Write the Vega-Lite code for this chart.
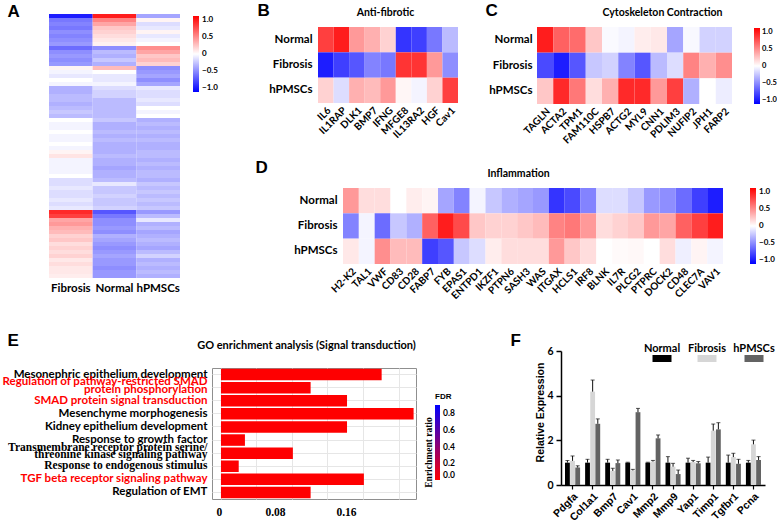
{
  "$schema": "https://vega.github.io/schema/vega-lite/v6.json",
  "padding": 0,
  "config": {
    "view": {"stroke": null},
    "font": "Lato",
    "axis": {"labelFont": "Lato", "titleFont": "Lato", "labelColor": "#000", "titleColor": "#000"},
    "legend": {"labelFont": "Lato", "titleFont": "Lato", "labelColor": "#000", "titleColor": "#000"}
  },
  "datasets": {
    "qpcr": [
      {"gene":"Pdgfa","group":"Normal","v":1.0,"hi":1.1},
      {"gene":"Pdgfa","group":"Fibrosis","v":1.08,"hi":1.3},
      {"gene":"Pdgfa","group":"hPMSCs","v":0.78,"hi":0.86},
      {"gene":"Col1a1","group":"Normal","v":1.0,"hi":1.15},
      {"gene":"Col1a1","group":"Fibrosis","v":4.18,"hi":4.7},
      {"gene":"Col1a1","group":"hPMSCs","v":2.74,"hi":2.96},
      {"gene":"Bmp7","group":"Normal","v":1.0,"hi":1.15},
      {"gene":"Bmp7","group":"Fibrosis","v":0.63,"hi":0.75},
      {"gene":"Bmp7","group":"hPMSCs","v":0.98,"hi":1.12},
      {"gene":"Cav1","group":"Normal","v":1.0,"hi":1.02},
      {"gene":"Cav1","group":"Fibrosis","v":0.65,"hi":0.7},
      {"gene":"Cav1","group":"hPMSCs","v":3.26,"hi":3.43},
      {"gene":"Mmp2","group":"Normal","v":1.0,"hi":1.02},
      {"gene":"Mmp2","group":"Fibrosis","v":1.05,"hi":1.1},
      {"gene":"Mmp2","group":"hPMSCs","v":2.09,"hi":2.24},
      {"gene":"Mmp9","group":"Normal","v":1.0,"hi":1.27},
      {"gene":"Mmp9","group":"Fibrosis","v":0.82,"hi":0.97},
      {"gene":"Mmp9","group":"hPMSCs","v":0.49,"hi":0.67},
      {"gene":"Yap1","group":"Normal","v":1.0,"hi":1.2},
      {"gene":"Yap1","group":"Fibrosis","v":1.03,"hi":1.1},
      {"gene":"Yap1","group":"hPMSCs","v":0.97,"hi":1.05},
      {"gene":"Timp1","group":"Normal","v":1.0,"hi":1.25},
      {"gene":"Timp1","group":"Fibrosis","v":2.43,"hi":2.73},
      {"gene":"Timp1","group":"hPMSCs","v":2.49,"hi":2.79},
      {"gene":"Tgfbr1","group":"Normal","v":1.0,"hi":1.34},
      {"gene":"Tgfbr1","group":"Fibrosis","v":1.25,"hi":1.42},
      {"gene":"Tgfbr1","group":"hPMSCs","v":0.95,"hi":1.15},
      {"gene":"Pcna","group":"Normal","v":1.0,"hi":1.1},
      {"gene":"Pcna","group":"Fibrosis","v":1.82,"hi":2.01},
      {"gene":"Pcna","group":"hPMSCs","v":1.12,"hi":1.27}
    ]
  },
  "resolve": {"scale": {"color": "independent"}, "legend": {"color": "independent"}},
  "bounds": "flush",
  "spacing": 0,
  "vconcat": [
    {
      "resolve": {"scale": {"color": "independent"}, "legend": {"color": "independent"}},
      "bounds": "flush", "spacing": 13,
      "vconcat": [
        {"width": 1, "height": 1, "data": {"values": []}, "mark": "rect", "encoding": {}},
        {
          "resolve": {"scale": {"color": "independent"}, "legend": {"color": "independent"}},
          "bounds": "flush", "spacing": 48,
          "hconcat": [
            {"width": 1, "height": 1, "data": {"values": []}, "mark": "rect", "encoding": {}},
            {
              "width": 131,
              "height": 264,
              "data": {"values": [
                {"r":0,"Fibrosis":-1.0,"Normal":1.0,"hPMSCs":-0.4},
                {"r":1,"Fibrosis":-0.6,"Normal":0.55,"hPMSCs":0.05},
                {"r":2,"Fibrosis":-0.55,"Normal":0.4,"hPMSCs":-0.15},
                {"r":3,"Fibrosis":-0.6,"Normal":0.25,"hPMSCs":-0.1},
                {"r":4,"Fibrosis":-0.5,"Normal":0.2,"hPMSCs":0.05},
                {"r":5,"Fibrosis":-0.55,"Normal":0.15,"hPMSCs":-0.1},
                {"r":6,"Fibrosis":-0.5,"Normal":0.1,"hPMSCs":-0.05},
                {"r":7,"Fibrosis":-0.45,"Normal":0.06,"hPMSCs":0.0},
                {"r":8,"Fibrosis":-0.65,"Normal":-0.5,"hPMSCs":0.5},
                {"r":9,"Fibrosis":-0.5,"Normal":-0.3,"hPMSCs":0.4},
                {"r":10,"Fibrosis":-0.45,"Normal":-0.35,"hPMSCs":0.25},
                {"r":11,"Fibrosis":-0.5,"Normal":-0.25,"hPMSCs":0.3},
                {"r":12,"Fibrosis":-0.45,"Normal":-0.35,"hPMSCs":0.2},
                {"r":13,"Fibrosis":0.05,"Normal":0.3,"hPMSCs":-0.5},
                {"r":14,"Fibrosis":-0.05,"Normal":0.0,"hPMSCs":-0.45},
                {"r":15,"Fibrosis":-0.1,"Normal":-0.1,"hPMSCs":-0.4},
                {"r":16,"Fibrosis":0.0,"Normal":-0.1,"hPMSCs":-0.5},
                {"r":17,"Fibrosis":-0.05,"Normal":-0.05,"hPMSCs":-0.4},
                {"r":18,"Fibrosis":-0.35,"Normal":-0.15,"hPMSCs":-0.1},
                {"r":19,"Fibrosis":-0.35,"Normal":-0.2,"hPMSCs":-0.15},
                {"r":20,"Fibrosis":-0.3,"Normal":-0.2,"hPMSCs":-0.15},
                {"r":21,"Fibrosis":-0.3,"Normal":-0.3,"hPMSCs":-0.1},
                {"r":22,"Fibrosis":-0.35,"Normal":-0.3,"hPMSCs":-0.15},
                {"r":23,"Fibrosis":-0.3,"Normal":-0.3,"hPMSCs":0.0},
                {"r":24,"Fibrosis":-0.25,"Normal":-0.3,"hPMSCs":-0.05},
                {"r":25,"Fibrosis":-0.3,"Normal":-0.3,"hPMSCs":0.0},
                {"r":26,"Fibrosis":0.0,"Normal":-0.25,"hPMSCs":-0.35},
                {"r":27,"Fibrosis":-0.05,"Normal":-0.35,"hPMSCs":-0.3},
                {"r":28,"Fibrosis":-0.05,"Normal":-0.35,"hPMSCs":-0.35},
                {"r":29,"Fibrosis":0.0,"Normal":-0.3,"hPMSCs":-0.3},
                {"r":30,"Fibrosis":-0.05,"Normal":-0.35,"hPMSCs":-0.35},
                {"r":31,"Fibrosis":-0.05,"Normal":-0.3,"hPMSCs":-0.3},
                {"r":32,"Fibrosis":0.0,"Normal":-0.35,"hPMSCs":-0.35},
                {"r":33,"Fibrosis":-0.05,"Normal":-0.35,"hPMSCs":-0.35},
                {"r":34,"Fibrosis":0.05,"Normal":-0.35,"hPMSCs":-0.3},
                {"r":35,"Fibrosis":0.12,"Normal":-0.3,"hPMSCs":-0.3},
                {"r":36,"Fibrosis":-0.05,"Normal":-0.35,"hPMSCs":-0.35},
                {"r":37,"Fibrosis":-0.05,"Normal":-0.35,"hPMSCs":-0.3},
                {"r":38,"Fibrosis":-0.05,"Normal":-0.4,"hPMSCs":-0.35},
                {"r":39,"Fibrosis":-0.05,"Normal":-0.35,"hPMSCs":-0.3},
                {"r":40,"Fibrosis":0.0,"Normal":-0.35,"hPMSCs":-0.3},
                {"r":41,"Fibrosis":-0.15,"Normal":-0.3,"hPMSCs":-0.35},
                {"r":42,"Fibrosis":-0.15,"Normal":-0.1,"hPMSCs":-0.25},
                {"r":43,"Fibrosis":-0.1,"Normal":-0.25,"hPMSCs":-0.3},
                {"r":44,"Fibrosis":-0.15,"Normal":-0.25,"hPMSCs":-0.25},
                {"r":45,"Fibrosis":-0.15,"Normal":-0.2,"hPMSCs":-0.3},
                {"r":46,"Fibrosis":-0.1,"Normal":-0.25,"hPMSCs":-0.25},
                {"r":47,"Fibrosis":-0.15,"Normal":-0.25,"hPMSCs":-0.3},
                {"r":48,"Fibrosis":-0.1,"Normal":-0.2,"hPMSCs":-0.25},
                {"r":49,"Fibrosis":0.95,"Normal":-0.75,"hPMSCs":-0.45},
                {"r":50,"Fibrosis":0.85,"Normal":-0.6,"hPMSCs":-0.3},
                {"r":51,"Fibrosis":0.4,"Normal":-0.5,"hPMSCs":-0.1},
                {"r":52,"Fibrosis":0.45,"Normal":-0.5,"hPMSCs":-0.35},
                {"r":53,"Fibrosis":0.35,"Normal":-0.45,"hPMSCs":-0.3},
                {"r":54,"Fibrosis":0.3,"Normal":-0.5,"hPMSCs":-0.4},
                {"r":55,"Fibrosis":0.2,"Normal":-0.35,"hPMSCs":-0.35},
                {"r":56,"Fibrosis":0.25,"Normal":-0.4,"hPMSCs":-0.3},
                {"r":57,"Fibrosis":0.15,"Normal":-0.45,"hPMSCs":-0.35},
                {"r":58,"Fibrosis":0.2,"Normal":-0.5,"hPMSCs":-0.4},
                {"r":59,"Fibrosis":0.15,"Normal":-0.45,"hPMSCs":-0.3},
                {"r":60,"Fibrosis":0.2,"Normal":-0.4,"hPMSCs":-0.2},
                {"r":61,"Fibrosis":0.1,"Normal":-0.45,"hPMSCs":-0.35},
                {"r":62,"Fibrosis":0.15,"Normal":-0.45,"hPMSCs":-0.3},
                {"r":63,"Fibrosis":0.1,"Normal":-0.5,"hPMSCs":-0.35},
                {"r":64,"Fibrosis":0.1,"Normal":-0.45,"hPMSCs":-0.3},
                {"r":65,"Fibrosis":0.08,"Normal":-0.45,"hPMSCs":-0.35}
              ]},
              "transform": [{"fold": ["Fibrosis", "Normal", "hPMSCs"], "as": ["grp", "val"]}],
              "mark": {"type": "rect"},
              "encoding": {
                "x": {"field": "grp", "type": "nominal", "sort": ["Fibrosis", "Normal", "hPMSCs"],
                      "scale": {"paddingInner": 0, "paddingOuter": 0},
                      "axis": {"title": null, "labelAngle": 0, "labelFontSize": 11.5, "labelFontWeight": "bold", "ticks": false, "domain": false, "labelPadding": 4}},
                "y": {"field": "r", "type": "ordinal",
                      "scale": {"paddingInner": 0, "paddingOuter": 0},
                      "axis": {"labels": false, "ticks": false, "domain": false, "title": "A", "titleAngle": 0, "titleX": -42, "titleY": 2, "titleAlign": "left", "titleBaseline": "alphabetic", "titleFontSize": 17, "titleFontWeight": "bold", "titleFont": "Liberation Sans"}},
                "color": {"field": "val", "type": "quantitative",
                          "scale": {"type": "linear", "domain": [-1.13, 0, 1.13], "range": ["#0000ff", "#ffffff", "#ff0000"], "interpolate": "rgb"},
                          "legend": {"orient": "none", "legendX": 144, "legendY": 2, "direction": "vertical", "title": null, "gradientLength": 76, "gradientThickness": 6, "values": [1, 0.5, 0, -0.5, -1], "labelExpr": "datum.value == 0 ? '0' : format(datum.value, '.1f')", "labelFontSize": 8, "labelFontWeight": "bold", "labelOffset": 3, "gradientStrokeWidth": 0}}
              }
            }
          ]
        }
      ]
    },
    {
      "resolve": {"scale": {"color": "independent"}, "legend": {"color": "independent"}},
      "bounds": "flush", "spacing": 26,
      "vconcat": [
        {"width": 1, "height": 1, "data": {"values": []}, "mark": "rect", "encoding": {}},
        {
          "resolve": {"scale": {"color": "independent"}, "legend": {"color": "independent"}},
          "bounds": "flush", "spacing": 317,
          "hconcat": [
            {"width": 1, "height": 1, "data": {"values": []}, "mark": "rect", "encoding": {}},
            {
              "width": 140,
              "height": 76,
              "data": {"values": [
                {"gene":"IL6","Normal":0.85,"Fibrosis":-1.0,"hPMSCs":0.2},
                {"gene":"IL1RAP","Normal":1.0,"Fibrosis":-0.85,"hPMSCs":-0.15},
                {"gene":"DLK1","Normal":0.45,"Fibrosis":-0.75,"hPMSCs":0.35},
                {"gene":"BMP7","Normal":0.35,"Fibrosis":-0.55,"hPMSCs":0.3},
                {"gene":"IFNG","Normal":0.2,"Fibrosis":-0.6,"hPMSCs":0.45},
                {"gene":"MFGE8","Normal":-0.9,"Fibrosis":0.9,"hPMSCs":0.04},
                {"gene":"IL13RA2","Normal":-0.85,"Fibrosis":0.9,"hPMSCs":-0.05},
                {"gene":"HGF","Normal":-0.6,"Fibrosis":0.45,"hPMSCs":0.2},
                {"gene":"Cav1","Normal":-0.3,"Fibrosis":-0.5,"hPMSCs":0.85}
              ]},
              "transform": [{"fold": ["Normal", "Fibrosis", "hPMSCs"], "as": ["grp", "val"]}],
              "mark": {"type": "rect"},
              "encoding": {
                "x": {"field": "gene", "type": "nominal", "sort": null,
                      "scale": {"paddingInner": 0, "paddingOuter": 0},
                      "axis": {"labelAngle": -45, "labelFontSize": 10, "labelFontWeight": "bold", "ticks": false, "domain": false, "labelPadding": 2,
                               "title": "Anti-fibrotic", "titleX": 67, "titleY": -88, "titleAlign": "center", "titleBaseline": "alphabetic", "titleFontSize": 10.5, "titleFontWeight": "bold"}},
                "y": {"field": "grp", "type": "nominal", "sort": ["Normal", "Fibrosis", "hPMSCs"],
                      "scale": {"paddingInner": 0, "paddingOuter": 0},
                      "axis": {"labelFontSize": 11.5, "labelFontWeight": "bold", "ticks": false, "domain": false, "labelPadding": 6,
                               "title": "B", "titleAngle": 0, "titleX": -61, "titleY": -12, "titleAlign": "left", "titleBaseline": "alphabetic", "titleFontSize": 17, "titleFontWeight": "bold", "titleFont": "Liberation Sans"}},
                "color": {"field": "val", "type": "quantitative",
                          "scale": {"type": "linear", "domain": [-1.13, 0, 1.13], "range": ["#0000ff", "#ffffff", "#ff0000"], "interpolate": "rgb"},
                          "legend": null}
              }
            }
          ]
        }
      ]
    },
    {
      "resolve": {"scale": {"color": "independent"}, "legend": {"color": "independent"}},
      "bounds": "flush", "spacing": 26,
      "vconcat": [
        {"width": 1, "height": 1, "data": {"values": []}, "mark": "rect", "encoding": {}},
        {
          "resolve": {"scale": {"color": "independent"}, "legend": {"color": "independent"}},
          "bounds": "flush", "spacing": 536,
          "hconcat": [
            {"width": 1, "height": 1, "data": {"values": []}, "mark": "rect", "encoding": {}},
            {
              "width": 195,
              "height": 77,
              "data": {"values": [
                {"gene":"TAGLN","Normal":1.0,"Fibrosis":-0.8,"hPMSCs":0.25},
                {"gene":"ACTA2","Normal":0.7,"Fibrosis":-1.0,"hPMSCs":0.95},
                {"gene":"TPM1","Normal":0.65,"Fibrosis":-0.75,"hPMSCs":0.6},
                {"gene":"FAM110C","Normal":0.25,"Fibrosis":-0.25,"hPMSCs":0.15},
                {"gene":"HSPB7","Normal":-0.02,"Fibrosis":-0.2,"hPMSCs":0.35},
                {"gene":"ACTG2","Normal":-0.05,"Fibrosis":-0.55,"hPMSCs":0.95},
                {"gene":"MYL9","Normal":0.08,"Fibrosis":-0.75,"hPMSCs":0.95},
                {"gene":"CNN1","Normal":0.1,"Fibrosis":-0.3,"hPMSCs":0.45},
                {"gene":"PDLIM3","Normal":-0.4,"Fibrosis":-0.15,"hPMSCs":0.85},
                {"gene":"NUFIP2","Normal":-0.03,"Fibrosis":0.55,"hPMSCs":-0.35},
                {"gene":"JPH1","Normal":-0.2,"Fibrosis":0.35,"hPMSCs":0.0},
                {"gene":"FARP2","Normal":-0.2,"Fibrosis":0.5,"hPMSCs":-0.08}
              ]},
              "transform": [{"fold": ["Normal", "Fibrosis", "hPMSCs"], "as": ["grp", "val"]}],
              "mark": {"type": "rect"},
              "encoding": {
                "x": {"field": "gene", "type": "nominal", "sort": null,
                      "scale": {"paddingInner": 0, "paddingOuter": 0},
                      "axis": {"labelAngle": -45, "labelFontSize": 10, "labelFontWeight": "bold", "ticks": false, "domain": false, "labelPadding": 2,
                               "title": "Cytoskeleton Contraction", "titleX": 125, "titleY": -89, "titleAlign": "center", "titleBaseline": "alphabetic", "titleFontSize": 10.5, "titleFontWeight": "bold"}},
                "y": {"field": "grp", "type": "nominal", "sort": ["Normal", "Fibrosis", "hPMSCs"],
                      "scale": {"paddingInner": 0, "paddingOuter": 0},
                      "axis": {"labelFontSize": 11.5, "labelFontWeight": "bold", "ticks": false, "domain": false, "labelPadding": 5,
                               "title": "C", "titleAngle": 0, "titleX": -52, "titleY": -12, "titleAlign": "left", "titleBaseline": "alphabetic", "titleFontSize": 17, "titleFontWeight": "bold", "titleFont": "Liberation Sans"}},
                "color": {"field": "val", "type": "quantitative",
                          "scale": {"type": "linear", "domain": [-1.13, 0, 1.13], "range": ["#0000ff", "#ffffff", "#ff0000"], "interpolate": "rgb"},
                          "legend": {"orient": "none", "legendX": 217, "legendY": 1, "direction": "vertical", "title": null, "gradientLength": 76, "gradientThickness": 6, "values": [1, 0.5, 0, -0.5, -1], "labelExpr": "datum.value == 0 ? '0' : format(datum.value, '.1f')", "labelFontSize": 7.5, "labelFontWeight": "bold", "labelOffset": 2, "gradientStrokeWidth": 0}}
              }
            }
          ]
        }
      ]
    },
    {
      "resolve": {"scale": {"color": "independent"}, "legend": {"color": "independent"}},
      "bounds": "flush", "spacing": 187,
      "vconcat": [
        {"width": 1, "height": 1, "data": {"values": []}, "mark": "rect", "encoding": {}},
        {
          "resolve": {"scale": {"color": "independent"}, "legend": {"color": "independent"}},
          "bounds": "flush", "spacing": 342,
          "hconcat": [
            {"width": 1, "height": 1, "data": {"values": []}, "mark": "rect", "encoding": {}},
            {
              "width": 380,
              "height": 76,
              "data": {"values": [
                {"gene":"H2-K2","Normal":0.45,"Fibrosis":-0.55,"hPMSCs":0.1},
                {"gene":"TAL1","Normal":0.15,"Fibrosis":-0.05,"hPMSCs":-0.05},
                {"gene":"VWF","Normal":0.15,"Fibrosis":-0.65,"hPMSCs":0.5},
                {"gene":"CD83","Normal":0.0,"Fibrosis":-0.25,"hPMSCs":0.3},
                {"gene":"CD28","Normal":0.08,"Fibrosis":-0.35,"hPMSCs":0.3},
                {"gene":"FABP7","Normal":0.05,"Fibrosis":0.7,"hPMSCs":-0.85},
                {"gene":"FYB","Normal":-0.4,"Fibrosis":1.0,"hPMSCs":-0.75},
                {"gene":"EPAS1","Normal":-0.55,"Fibrosis":0.8,"hPMSCs":-0.25},
                {"gene":"ENTPD1","Normal":-0.05,"Fibrosis":0.25,"hPMSCs":-0.15},
                {"gene":"IKZF1","Normal":-0.25,"Fibrosis":0.2,"hPMSCs":0.08},
                {"gene":"PTPN6","Normal":-0.35,"Fibrosis":0.2,"hPMSCs":0.15},
                {"gene":"SASH3","Normal":-0.4,"Fibrosis":0.25,"hPMSCs":0.15},
                {"gene":"WAS","Normal":-0.45,"Fibrosis":0.3,"hPMSCs":0.15},
                {"gene":"ITGAX","Normal":-0.9,"Fibrosis":0.55,"hPMSCs":0.45},
                {"gene":"HCLS1","Normal":-0.8,"Fibrosis":0.6,"hPMSCs":0.25},
                {"gene":"IRF8","Normal":-0.55,"Fibrosis":0.45,"hPMSCs":0.15},
                {"gene":"BLNK","Normal":-0.15,"Fibrosis":0.15,"hPMSCs":0.0},
                {"gene":"IL7R","Normal":-0.15,"Fibrosis":0.2,"hPMSCs":0.02},
                {"gene":"PLCG2","Normal":-0.25,"Fibrosis":0.25,"hPMSCs":0.03},
                {"gene":"PTPRC","Normal":-0.45,"Fibrosis":0.45,"hPMSCs":0.0},
                {"gene":"DOCK2","Normal":-0.5,"Fibrosis":0.4,"hPMSCs":0.15},
                {"gene":"CD48","Normal":-0.65,"Fibrosis":0.7,"hPMSCs":-0.07},
                {"gene":"CLEC7A","Normal":-0.85,"Fibrosis":0.85,"hPMSCs":0.05},
                {"gene":"VAV1","Normal":-1.0,"Fibrosis":1.0,"hPMSCs":-0.05}
              ]},
              "transform": [{"fold": ["Normal", "Fibrosis", "hPMSCs"], "as": ["grp", "val"]}],
              "mark": {"type": "rect"},
              "encoding": {
                "x": {"field": "gene", "type": "nominal", "sort": null,
                      "scale": {"paddingInner": 0, "paddingOuter": 0},
                      "axis": {"labelAngle": -45, "labelFontSize": 10, "labelFontWeight": "bold", "ticks": false, "domain": false, "labelPadding": 2,
                               "title": "Inflammation", "titleX": 175, "titleY": -88, "titleAlign": "center", "titleBaseline": "alphabetic", "titleFontSize": 10.5, "titleFontWeight": "bold"}},
                "y": {"field": "grp", "type": "nominal", "sort": ["Normal", "Fibrosis", "hPMSCs"],
                      "scale": {"paddingInner": 0, "paddingOuter": 0},
                      "axis": {"labelFontSize": 11.5, "labelFontWeight": "bold", "ticks": false, "domain": false, "labelPadding": 6,
                               "title": "D", "titleAngle": 0, "titleX": -88, "titleY": -16, "titleAlign": "left", "titleBaseline": "alphabetic", "titleFontSize": 17, "titleFontWeight": "bold", "titleFont": "Liberation Sans"}},
                "color": {"field": "val", "type": "quantitative",
                          "scale": {"type": "linear", "domain": [-1.13, 0, 1.13], "range": ["#0000ff", "#ffffff", "#ff0000"], "interpolate": "rgb"},
                          "legend": {"orient": "none", "legendX": 407, "legendY": 0, "direction": "vertical", "title": null, "gradientLength": 76, "gradientThickness": 6, "values": [1, 0.5, 0, -0.5, -1], "labelExpr": "datum.value == 0 ? '0' : format(datum.value, '.1f')", "labelFontSize": 8, "labelFontWeight": "bold", "labelOffset": 3, "gradientStrokeWidth": 0}}
              }
            }
          ]
        }
      ]
    },
    {
      "resolve": {"scale": {"color": "independent"}, "legend": {"color": "independent"}},
      "bounds": "flush", "spacing": 367,
      "vconcat": [
        {"width": 1, "height": 1, "data": {"values": []}, "mark": "rect", "encoding": {}},
        {
          "resolve": {"scale": {"color": "independent"}, "legend": {"color": "independent"}},
          "bounds": "flush", "spacing": 211,
          "hconcat": [
            {"width": 1, "height": 1, "data": {"values": []}, "mark": "rect", "encoding": {}},
            {
              "width": 204,
              "height": 131,
              "view": {"stroke": "#8f8f8f", "strokeWidth": 1},
              "data": {"values": [
                {"term": "Mesonephric epithelium development", "ratio": 0.181, "fdr": 0.002},
                {"term": "Regulation of pathway-restricted SMAD protein phosphorylation", "ratio": 0.101, "fdr": 0.003},
                {"term": "SMAD protein signal transduction", "ratio": 0.142, "fdr": 0.003},
                {"term": "Mesenchyme morphogenesis", "ratio": 0.217, "fdr": 0.001},
                {"term": "Kidney epithelium development", "ratio": 0.142, "fdr": 0.002},
                {"term": "Response to growth factor", "ratio": 0.027, "fdr": 0.004},
                {"term": "Transmembrane receptor protein serine/threonine kinase signaling pathway", "ratio": 0.081, "fdr": 0.003},
                {"term": "Response to endogenous stimulus", "ratio": 0.02, "fdr": 0.005},
                {"term": "TGF beta receptor signaling pathway", "ratio": 0.161, "fdr": 0.002},
                {"term": "Regulation of EMT", "ratio": 0.101, "fdr": 0.003}
              ]},
              "resolve": {"axis": {"x": "independent"}},
              "layer": [
                {
                  "mark": {"type": "bar"},
                  "encoding": {
                    "x": {"field": "ratio", "type": "quantitative",
                          "scale": {"domain": [-0.0101, 0.2197], "nice": false},
                          "axis": {"orient": "bottom", "values": [0, 0.04, 0.08, 0.12, 0.16, 0.2], "grid": true, "gridColor": "#e6e6e6", "ticks": false, "domain": false,
                                   "labelExpr": "datum.value == 0 ? '0' : (abs(datum.value - 0.08) < 0.000001 ? '0.08' : (abs(datum.value - 0.16) < 0.000001 ? '0.16' : ''))",
                                   "labelFont": "Liberation Serif", "labelFontSize": 11.5, "labelFontWeight": "bold", "labelPadding": 7, "labelFlush": false,
                                   "labelOffset": {"condition": {"test": "datum.value == 0", "value": -2}, "value": -17},
                                   "title": "GO enrichment analysis (Signal transduction)", "titleX": 94, "titleY": -151, "titleAlign": "center", "titleBaseline": "alphabetic", "titleFontSize": 11, "titleFontWeight": "bold"}},
                    "y": {"field": "term", "type": "nominal", "sort": null,
                          "scale": {"paddingInner": 0.12, "paddingOuter": 0.06},
                          "axis": {"grid": true, "gridColor": "#e6e6e6", "bandPosition": 0.5, "ticks": false, "domain": false, "labelPadding": 5, "labelLimit": 400, "labelLineHeight": 7.5,
                                   "labelFontWeight": "bold",
                                   "labelOffset": {"condition": {"test": "indexof(datum.value, 'Transmembrane') == 0 || indexof(datum.value, 'Regulation of pathway') == 0", "value": -5.5}, "value": 0},
                                   "labelFontSize": 11.5,
                                   "labelFont": {"condition": {"test": "indexof(datum.value, 'Transmembrane') == 0 || datum.value == 'Response to endogenous stimulus'", "value": "Liberation Serif"}, "value": "Lato"},
                                   "labelColor": {"condition": {"test": "indexof(['Regulation of pathway-restricted SMAD protein phosphorylation', 'SMAD protein signal transduction', 'TGF beta receptor signaling pathway'], datum.value) >= 0", "value": "#ff0000"}, "value": "#000000"},
                                   "labelExpr": "datum.value == 'Regulation of pathway-restricted SMAD protein phosphorylation' ? ['Regulation of pathway-restricted SMAD', 'protein phosphorylation\u2002\u2002\u2002\u2002\u2002\u2002\u2002'] : (indexof(datum.value, 'Transmembrane') == 0 ? ['Transmembrane receptor protein serine/', 'threonine kinase signaling pathway\u2002'] : datum.label)",
                                   "title": "Enrichment ratio", "titleX": 216, "titleY": 84, "titleAngle": 270, "titleAlign": "center", "titleBaseline": "middle", "titleFont": "Liberation Serif", "titleFontSize": 9.5, "titleFontWeight": "bold"}},
                    "color": {"field": "fdr", "type": "quantitative",
                              "scale": {"domain": [0, 0.9], "range": ["#ff0000", "#0000ff"], "interpolate": "rgb"},
                              "legend": {"orient": "none", "legendX": 223, "legendY": 25, "direction": "vertical", "title": "FDR", "titleFontSize": 8, "titleFont": "Liberation Sans", "titleFontWeight": "bold", "titlePadding": 4,
                                         "gradientLength": 75, "gradientThickness": 5, "values": [0, 0.2, 0.4, 0.6, 0.8], "labelExpr": "format(datum.value, '.1f')", "labelFontSize": 8.5, "labelFontWeight": "bold", "labelOffset": 3, "gradientStrokeWidth": 0}}
                  }
                },
                {
                  "mark": {"type": "rule", "opacity": 0},
                  "encoding": {
                    "x": {"datum": 0, "type": "quantitative",
                          "axis": {"orient": "top", "labels": false, "ticks": false, "domain": false, "grid": false,
                                   "title": "E", "titleX": -205, "titleY": -23, "titleAngle": 0, "titleAlign": "left", "titleBaseline": "alphabetic", "titleFontSize": 17, "titleFontWeight": "bold", "titleFont": "Liberation Sans"}}
                  }
                }
              ]
            }
          ]
        }
      ]
    },
    {
      "resolve": {"scale": {"color": "independent"}, "legend": {"color": "independent"}},
      "bounds": "flush", "spacing": 350,
      "vconcat": [
        {"width": 1, "height": 1, "data": {"values": []}, "mark": "rect", "encoding": {}},
        {
          "resolve": {"scale": {"color": "independent"}, "legend": {"color": "independent"}},
          "bounds": "flush", "spacing": 560,
          "hconcat": [
            {"width": 1, "height": 1, "data": {"values": []}, "mark": "rect", "encoding": {}},
            {
              "width": 204,
              "height": 134,
              "data": {"name": "qpcr"},
              "mark": {"type": "bar"},
              "encoding": {
                "x": {"field": "gene", "type": "nominal", "sort": null,
                      "scale": {"paddingInner": 0.25, "paddingOuter": 0.2},
                      "axis": {"labelAngle": -45, "labelFontSize": 10.5, "labelFontWeight": "bold", "labelFont": "Liberation Sans", "ticks": true, "tickSize": 4, "tickColor": "#000", "tickWidth": 1.2, "domainColor": "#000", "domainWidth": 1.5, "labelPadding": 2,
                               "title": "F", "titleX": -51, "titleY": -140, "titleAngle": 0, "titleAlign": "left", "titleBaseline": "alphabetic", "titleFontSize": 17, "titleFontWeight": "bold", "titleFont": "Liberation Sans"}},
                "xOffset": {"field": "group", "type": "nominal", "sort": ["Normal", "Fibrosis", "hPMSCs"], "scale": {"paddingInner": 0.06, "paddingOuter": 0}},
                "y": {"field": "v", "type": "quantitative", "scale": {"domain": [0, 6], "nice": false}, "axis": null},
                "color": {"field": "group", "type": "nominal",
                          "scale": {"domain": ["Normal", "Fibrosis", "hPMSCs"], "range": ["#000000", "#d6d6d6", "#636363"]},
                          "legend": {"orient": "none", "legendX": 91, "legendY": -12, "direction": "horizontal", "title": null,
                                     "symbolType": "M-0.95,0.6H0.95V1.3H-0.95Z", "symbolSize": 400, "symbolStrokeWidth": 0, "symbolOpacity": 1,
                                     "labelAlign": "center", "labelOffset": -10, "labelFontSize": 11, "labelFontWeight": "bold", "labelFont": "Lato", "columnPadding": 7}}
              }
            }
          ]
        }
      ]
    },
    {
      "resolve": {"scale": {"color": "independent"}, "legend": {"color": "independent"}},
      "bounds": "flush", "spacing": 350,
      "vconcat": [
        {"width": 1, "height": 1, "data": {"values": []}, "mark": "rect", "encoding": {}},
        {
          "resolve": {"scale": {"color": "independent"}, "legend": {"color": "independent"}},
          "bounds": "flush", "spacing": 560,
          "hconcat": [
            {"width": 1, "height": 1, "data": {"values": []}, "mark": "rect", "encoding": {}},
            {
              "width": 204,
              "height": 134,
              "data": {"name": "qpcr"},
              "encoding": {
                "x": {"field": "gene", "type": "nominal", "sort": null, "scale": {"paddingInner": 0.25, "paddingOuter": 0.2}, "axis": null},
                "xOffset": {"field": "group", "type": "nominal", "sort": ["Normal", "Fibrosis", "hPMSCs"], "scale": {"paddingInner": 0.06, "paddingOuter": 0}}
              },
              "layer": [
                {
                  "mark": {"type": "rule", "color": "#111111", "strokeWidth": 1},
                  "encoding": {
                    "y": {"field": "v", "type": "quantitative", "scale": {"domain": [0, 6], "nice": false}, "axis": null},
                    "y2": {"field": "hi"}
                  }
                },
                {
                  "mark": {"type": "tick", "color": "#111111", "thickness": 1, "size": 4, "orient": "horizontal"},
                  "encoding": {
                    "y": {"field": "hi", "type": "quantitative", "scale": {"domain": [0, 6], "nice": false}, "axis": null}
                  }
                }
              ]
            }
          ]
        }
      ]
    },
    {
      "resolve": {"scale": {"color": "independent"}, "legend": {"color": "independent"}},
      "bounds": "flush", "spacing": 350,
      "vconcat": [
        {"width": 1, "height": 1, "data": {"values": []}, "mark": "rect", "encoding": {}},
        {
          "resolve": {"scale": {"color": "independent"}, "legend": {"color": "independent"}},
          "bounds": "flush", "spacing": 560,
          "hconcat": [
            {"width": 1, "height": 1, "data": {"values": []}, "mark": "rect", "encoding": {}},
            {
              "width": 204,
              "height": 134,
              "data": {"name": "qpcr"},
              "mark": {"type": "tick", "opacity": 0},
              "encoding": {
                "y": {"field": "v", "type": "quantitative",
                      "scale": {"domain": [0, 6], "nice": false},
                      "axis": {"values": [0, 2, 4, 6], "grid": false, "labels": false, "ticks": true, "domain": true, "tickColor": "#000000", "tickWidth": 1.5, "tickSize": 5, "domainColor": "#000000", "domainWidth": 1.5,
                               "title": "Relative Expression", "titleX": -21, "titleY": 61, "titleAngle": 270, "titleAlign": "center", "titleBaseline": "middle", "titleFontSize": 10.5, "titleFontWeight": "bold", "titleFont": "Liberation Sans"}}
              }
            }
          ]
        }
      ]
    },
    {
      "resolve": {"scale": {"color": "independent"}, "legend": {"color": "independent"}},
      "bounds": "flush", "spacing": 350,
      "vconcat": [
        {"width": 1, "height": 1, "data": {"values": []}, "mark": "rect", "encoding": {}},
        {
          "resolve": {"scale": {"color": "independent"}, "legend": {"color": "independent"}},
          "bounds": "flush", "spacing": 560,
          "hconcat": [
            {"width": 1, "height": 1, "data": {"values": []}, "mark": "rect", "encoding": {}},
            {
              "width": 204,
              "height": 134,
              "data": {"name": "qpcr"},
              "mark": {"type": "rect", "opacity": 0},
              "encoding": {
                "y": {"field": "gene", "type": "nominal",
                      "scale": {"type": "point", "domain": ["6", "4", "2", "0"], "padding": 0},
                      "axis": {"labels": true, "ticks": false, "domain": false, "grid": false, "labelFontSize": 10.5, "labelFontWeight": "bold", "labelPadding": 8, "title": null}}
              }
            }
          ]
        }
      ]
    }
  ]
}
